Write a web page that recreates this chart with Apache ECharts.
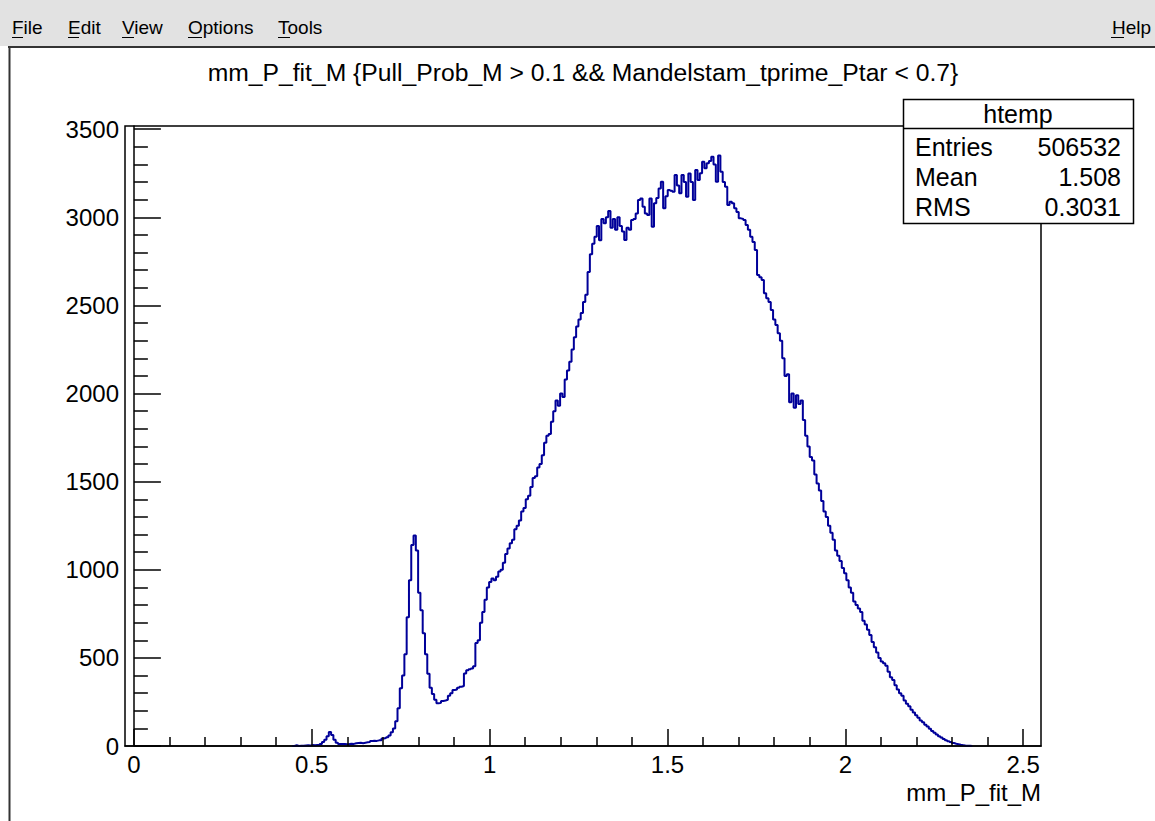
<!DOCTYPE html>
<html><head><meta charset="utf-8">
<script src="https://cdn.jsdelivr.net/npm/echarts@6/dist/echarts.min.js"></script>
<style>html,body{margin:0;padding:0;background:#fff;overflow:hidden}#c{width:1155px;height:821px}</style>
</head><body><div id="c"></div>
<script>
const TITLE = "mm_P_fit_M {Pull_Prob_M > 0.1 && Mandelstam_tprime_Ptar < 0.7}";
const X_TITLE = "mm_P_fit_M";
const MENU_ITEMS = ["File", "Edit", "View", "Options", "Tools"];
const HELP_ITEM = "Help";
const STATS_NAME = "htemp";
const STATS_LABELS = ["Entries", "Mean", "RMS"];
const STATS_VALUES = ["506532", "1.508", "0.3031"];

const X_MIN = -0.025, X_MAX = 2.55;
const Y_MIN = 0, Y_MAX = 3518;
const X_MAJOR = [0, 0.5, 1, 1.5, 2, 2.5];
const X_MINOR = [0.1,0.2,0.3,0.4,0.6,0.7,0.8,0.9,1.1,1.2,1.3,1.4,1.6,1.7,1.8,1.9,2.1,2.2,2.3,2.4];
const Y_MAJOR = [0, 500, 1000, 1500, 2000, 2500, 3000, 3500];
const Y_MINOR = [100,200,300,400,600,700,800,900,1100,1200,1300,1400,1600,1700,1800,1900,2100,2200,2300,2400,2600,2700,2800,2900,3100,3200,3300,3400];

const BIN_LOW = -0.025, BIN_WIDTH = 0.0064375, FIRST_BIN = 74;
const COUNTS = [
4,0,1,2,3,4,3,5,4,6,
7,12,22,35,55,80,62,35,18,12,
11,12,10,11,13,12,16,17,18,16,
19,21,22,28,30,29,32,33,42,45,
50,60,78,100,140,214,327,400,520,730,
940,1140,1195,1110,870,770,640,520,410,330,
295,262,242,245,255,258,262,285,300,318,
320,330,336,340,412,430,435,440,452,584,
600,700,760,830,900,930,950,940,960,990,
1000,1040,1090,1120,1150,1170,1230,1250,1280,1330,
1350,1400,1420,1470,1520,1530,1580,1600,1650,1720,
1760,1770,1840,1900,1960,1930,2000,1980,2080,2130,
2180,2250,2320,2380,2420,2457,2520,2560,2690,2790,
2850,2890,2950,2870,2990,2966,3000,3035,2940,2990,
2930,3000,2950,2920,2871,2940,2930,2985,2990,3022,
3098,3107,3060,3022,3013,3107,2947,3080,3110,3164,
3202,3051,3120,3155,3150,3145,3240,3180,3136,3240,
3200,3117,3249,3200,3098,3268,3211,3250,3315,3278,
3306,3320,3344,3300,3202,3351,3259,3200,3173,3070,
3088,3080,3051,3030,2994,2990,2985,2956,2930,2890,
2860,2814,2672,2660,2644,2569,2540,2520,2474,2420,
2389,2342,2300,2200,2100,2110,1950,2000,1920,1990,
1940,1960,1850,1760,1700,1640,1620,1540,1490,1450,
1390,1330,1300,1250,1210,1170,1110,1080,1050,1010,
980,940,900,870,820,800,780,760,710,690,
660,630,590,560,530,500,480,470,455,422,
390,374,345,320,300,285,258,240,225,205,
190,175,160,145,135,120,110,98,85,75,
65,55,48,40,33,27,22,17,13,10,
7,5,3,2,1
];

const FONT = '"Liberation Sans", Arial, Helvetica, sans-serif';
const HIST_COLOR = '#000099';

// histogram outline points (bin low edges), step drawn by the library
const pts = [[BIN_LOW + (FIRST_BIN - 1) * BIN_WIDTH, 0]];
COUNTS.forEach((c, k) => pts.push([BIN_LOW + (FIRST_BIN + k) * BIN_WIDTH, c]));
const endEdge = BIN_LOW + (FIRST_BIN + COUNTS.length) * BIN_WIDTH;
pts.push([endEdge, 0]);
pts.push([endEdge + BIN_WIDTH, 0]);

const chart = echarts.init(document.getElementById('c'), null, {renderer: 'svg', width: 1155, height: 821});

const G = {left: 125, top: 126, width: 916, height: 620};

// window chrome + stats box as graphic elements
const menuX = [12, 68, 122, 188, 278];
const graphic = [];
graphic.push({type: 'rect', z: 0, silent: true, shape: {x: 0, y: 0, width: 1155, height: 46}, style: {fill: '#e2e2e2'}});
MENU_ITEMS.forEach((t, k) => {
  graphic.push({type: 'text', z: 1, silent: true, style: {text: t, x: menuX[k], y: 27, font: '19px ' + FONT, fill: '#000', textAlign: 'left', textVerticalAlign: 'middle'}});
});
graphic.push({type: 'text', z: 1, silent: true, style: {text: HELP_ITEM, x: 1151, y: 27, font: '19px ' + FONT, fill: '#000', textAlign: 'right', textVerticalAlign: 'middle'}});
const ulW = [11, 11, 12, 14, 12];
MENU_ITEMS.forEach((t, k) => {
  graphic.push({type: 'line', z: 1, silent: true, shape: {x1: menuX[k], y1: 37.5, x2: menuX[k] + ulW[k], y2: 37.5}, style: {stroke: '#000', lineWidth: 1}});
});
graphic.push({type: 'line', z: 1, silent: true, shape: {x1: 1111, y1: 37.5, x2: 1124, y2: 37.5}, style: {stroke: '#000', lineWidth: 1}});
// canvas border
graphic.push({type: 'line', z: 1, silent: true, shape: {x1: 8, y1: 47, x2: 1155, y2: 47}, style: {stroke: '#333', lineWidth: 2}});
graphic.push({type: 'line', z: 1, silent: true, shape: {x1: 9.5, y1: 46, x2: 9.5, y2: 821}, style: {stroke: '#333', lineWidth: 2}});
// title
graphic.push({type: 'text', z: 10, silent: true, style: {text: TITLE, x: 583, y: 72, font: '24.7px ' + FONT, fill: '#000', textAlign: 'center', textVerticalAlign: 'middle'}});
// x axis title
graphic.push({type: 'text', z: 10, silent: true, style: {text: X_TITLE, x: 1041, y: 792, font: '24px ' + FONT, fill: '#000', textAlign: 'right', textVerticalAlign: 'middle'}});
// stats box
const SB = {x: 903.5, y: 99.5, w: 230, h: 124};
graphic.push({type: 'rect', z: 100, silent: true, shape: {x: SB.x, y: SB.y, width: SB.w, height: SB.h}, style: {fill: '#fff', stroke: '#000', lineWidth: 1.5}});
graphic.push({type: 'line', z: 101, silent: true, shape: {x1: SB.x, y1: 128.5, x2: SB.x + SB.w, y2: 128.5}, style: {stroke: '#000', lineWidth: 1.5}});
graphic.push({type: 'text', z: 101, silent: true, style: {text: STATS_NAME, x: 1018, y: 114, font: '25px ' + FONT, fill: '#000', textAlign: 'center', textVerticalAlign: 'middle'}});
STATS_LABELS.forEach((t, k) => {
  graphic.push({type: 'text', z: 101, silent: true, style: {text: t, x: 915, y: 147 + 30 * k, font: '25px ' + FONT, fill: '#000', textAlign: 'left', textVerticalAlign: 'middle'}});
  graphic.push({type: 'text', z: 101, silent: true, style: {text: STATS_VALUES[k], x: 1121, y: 147 + 30 * k, font: '25px ' + FONT, fill: '#000', textAlign: 'right', textVerticalAlign: 'middle'}});
});

const axisLineStyle = {color: '#000', width: 1.5};
chart.setOption({
  animation: false,
  backgroundColor: '#fff',
  grid: {left: G.left, top: G.top, width: G.width, height: G.height, show: true, borderColor: '#000', borderWidth: 1.5, backgroundColor: 'transparent', containLabel: false},
  xAxis: [
    {type: 'value', min: X_MIN, max: X_MAX, position: 'bottom', z: 5,
     axisLine: {show: true, lineStyle: axisLineStyle},
     axisTick: {show: true, inside: true, length: 17, lineStyle: axisLineStyle, customValues: X_MAJOR},
     axisLabel: {show: true, margin: 6, color: '#000', fontSize: 24, fontFamily: FONT, customValues: X_MAJOR, formatter: v => String(v)},
     splitLine: {show: false}},
    {type: 'value', min: X_MIN, max: X_MAX, position: 'bottom', z: 5,
     axisLine: {show: false},
     axisTick: {show: true, inside: true, length: 9, lineStyle: axisLineStyle, customValues: X_MINOR},
     axisLabel: {show: false}, splitLine: {show: false}}
  ],
  yAxis: [
    {type: 'value', min: Y_MIN, max: Y_MAX, position: 'left', z: 5,
     axisLine: {show: true, lineStyle: axisLineStyle},
     axisTick: {show: true, inside: true, length: 27, lineStyle: axisLineStyle, customValues: Y_MAJOR},
     axisLabel: {show: true, margin: 6, color: '#000', fontSize: 24, fontFamily: FONT, customValues: Y_MAJOR, formatter: v => String(v)},
     splitLine: {show: false}},
    {type: 'value', min: Y_MIN, max: Y_MAX, position: 'left', z: 5,
     axisLine: {show: false},
     axisTick: {show: true, inside: true, length: 14, lineStyle: axisLineStyle, customValues: Y_MINOR},
     axisLabel: {show: false}, splitLine: {show: false}}
  ],
  series: [{
    type: 'line', xAxisIndex: 0, yAxisIndex: 0, step: 'end', data: pts,
    showSymbol: false, symbol: 'none', clip: true, z: 2,
    lineStyle: {color: HIST_COLOR, width: 2}
  }],
  graphic: graphic
});
</script></body></html>
